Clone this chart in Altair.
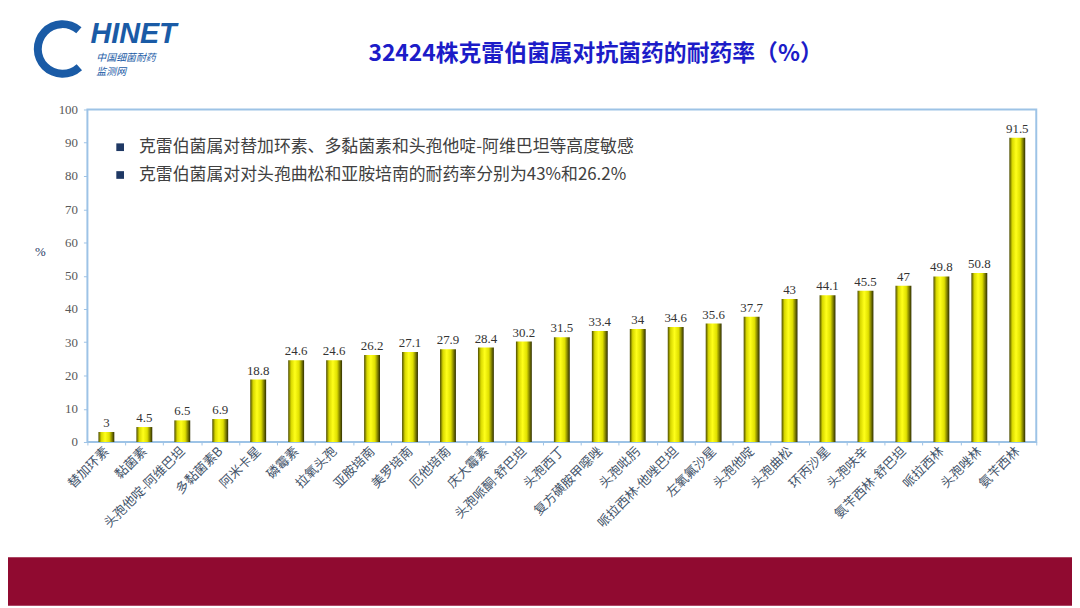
import altair as alt
import pandas as pd

categories = ["替加环素", "黏菌素", "头孢他啶-阿维巴坦", "多黏菌素B", "阿米卡星", "磷霉素", "拉氧头孢",
              "亚胺培南", "美罗培南", "厄他培南", "庆大霉素", "头孢哌酮-舒巴坦", "头孢西丁", "复方磺胺甲噁唑",
              "头孢吡肟", "哌拉西林-他唑巴坦", "左氧氟沙星", "头孢他啶", "头孢曲松", "环丙沙星", "头孢呋辛",
              "氨苄西林-舒巴坦", "哌拉西林", "头孢唑林", "氨苄西林"]
values = [3, 4.5, 6.5, 6.9, 18.8, 24.6, 24.6, 26.2, 27.1, 27.9, 28.4, 30.2, 31.5, 33.4,
          34, 34.6, 35.6, 37.7, 43, 44.1, 45.5, 47, 49.8, 50.8, 91.5]
y_ticks = [0, 10, 20, 30, 40, 50, 60, 70, 80, 90, 100]
title_text = "32424株克雷伯菌属对抗菌药的耐药率（%）"
notes = ["克雷伯菌属对替加环素、多黏菌素和头孢他啶-阿维巴坦等高度敏感",
         "克雷伯菌属对对头孢曲松和亚胺培南的耐药率分别为43%和26.2%"]

df = pd.DataFrame({"cat": categories, "val": values})

W, H = 956, 335
CJK = "Noto Sans CJK SC"
SERIF = "Liberation Serif"

grad = alt.Gradient(
    gradient="linear",
    stops=[
        alt.GradientStop(color="#4a4a00", offset=0),
        alt.GradientStop(color="#d8d800", offset=0.18),
        alt.GradientStop(color="#ffff1a", offset=0.42),
        alt.GradientStop(color="#e0e000", offset=0.68),
        alt.GradientStop(color="#2e2e00", offset=1),
    ],
    x1=0, x2=1, y1=0, y2=0,
)

xenc = alt.X("cat:N", sort=categories, title=None,
             scale=alt.Scale(paddingInner=0, paddingOuter=0),
             axis=alt.Axis(labelAngle=-45, labelAlign="right", labelBaseline="middle",
                           labelFont=CJK, labelFontSize=13, labelColor="#44546a",
                           labelPadding=4, domain=False, tickBand="extent",
                           tickColor="#9dc3e6", tickSize=3, labelLimit=300))
yenc = alt.Y("val:Q", title="%",
             scale=alt.Scale(domain=[0, 100], nice=False),
             axis=alt.Axis(values=y_ticks, grid=False, domain=False, labelOverlap=False,
                           labelFont=SERIF, labelFontSize=13, labelColor="#595959",
                           tickColor="#9dc3e6", tickSize=4, labelPadding=6,
                           titleAngle=0, titleX=-48, titleY=150, titleFont=SERIF,
                           titleFontSize=13, titleColor="#1f3864", titleFontWeight="normal"))

base = alt.Chart(df).encode(x=xenc, y=yenc)
bars = base.mark_bar(size=16, color=grad)
labels = base.mark_text(dy=-9, font=SERIF, fontSize=13, color="#333333").encode(
    text=alt.Text("val:Q"))

one = pd.DataFrame({"a": [0]})

band = alt.Chart(one).mark_rect(color="#900a30").encode(
    x=alt.value(-80), x2=alt.value(992), y=alt.value(451), y2=alt.value(500))

title = alt.Chart(one).mark_text(font=CJK, fontSize=23, fontWeight="bold", color="#1c1cc8",
                                 align="center", baseline="middle").encode(
    x=alt.value(512), y=alt.value(-56), text=alt.value(title_text))

note_df = pd.DataFrame({"t": notes, "i": [0, 1]})
notes_base = alt.Chart(note_df).transform_calculate(py="38 + 28 * datum.i")
bullets = notes_base.mark_square(size=60, color="#1f3864", opacity=1).encode(
    x=alt.value(33), y=alt.Y("py:Q", scale=None, axis=None))
note_text = notes_base.mark_text(font=CJK, fontSize=17, color="#404040",
                                 align="left", baseline="middle").encode(
    x=alt.value(52), y=alt.Y("py:Q", scale=None, axis=None), text="t:N")

# logo
logo_arc = alt.Chart(one).mark_arc(radius=29, radius2=21, theta=2.4, theta2=7.0, color="#1a5ba6").encode(
    x=alt.value(-25), y=alt.value(-61))
logo_txt = alt.Chart(one).mark_text(font="Liberation Sans", fontSize=29, fontWeight="bold",
                                    fontStyle="italic", color="#1a5ba6", align="left",
                                    baseline="alphabetic").encode(
    x=alt.value(3), y=alt.value(-67), text=alt.value("HINET"))
logo_cn1 = alt.Chart(one).mark_text(font=CJK, fontSize=10, fontStyle="italic", color="#1a5ba6",
                                    align="left", baseline="alphabetic").encode(
    x=alt.value(9), y=alt.value(-49), text=alt.value("中国细菌耐药"))
logo_cn2 = alt.Chart(one).mark_text(font=CJK, fontSize=10, fontStyle="italic", color="#1a5ba6",
                                    align="left", baseline="alphabetic").encode(
    x=alt.value(9), y=alt.value(-35), text=alt.value("监测网"))

chart = alt.layer(bars, labels, band, title, bullets, note_text,
                  logo_arc, logo_txt, logo_cn1, logo_cn2).properties(
    width=W, height=H,
    autosize=alt.AutoSizeParams(type="none"),
    padding={"left": 80, "top": 100, "right": 36, "bottom": 165},
    background="white",
).configure_view(stroke="#9dc3e6", strokeWidth=2)

chart.save("out.html", embed_options={"renderer": "svg", "actions": False})
